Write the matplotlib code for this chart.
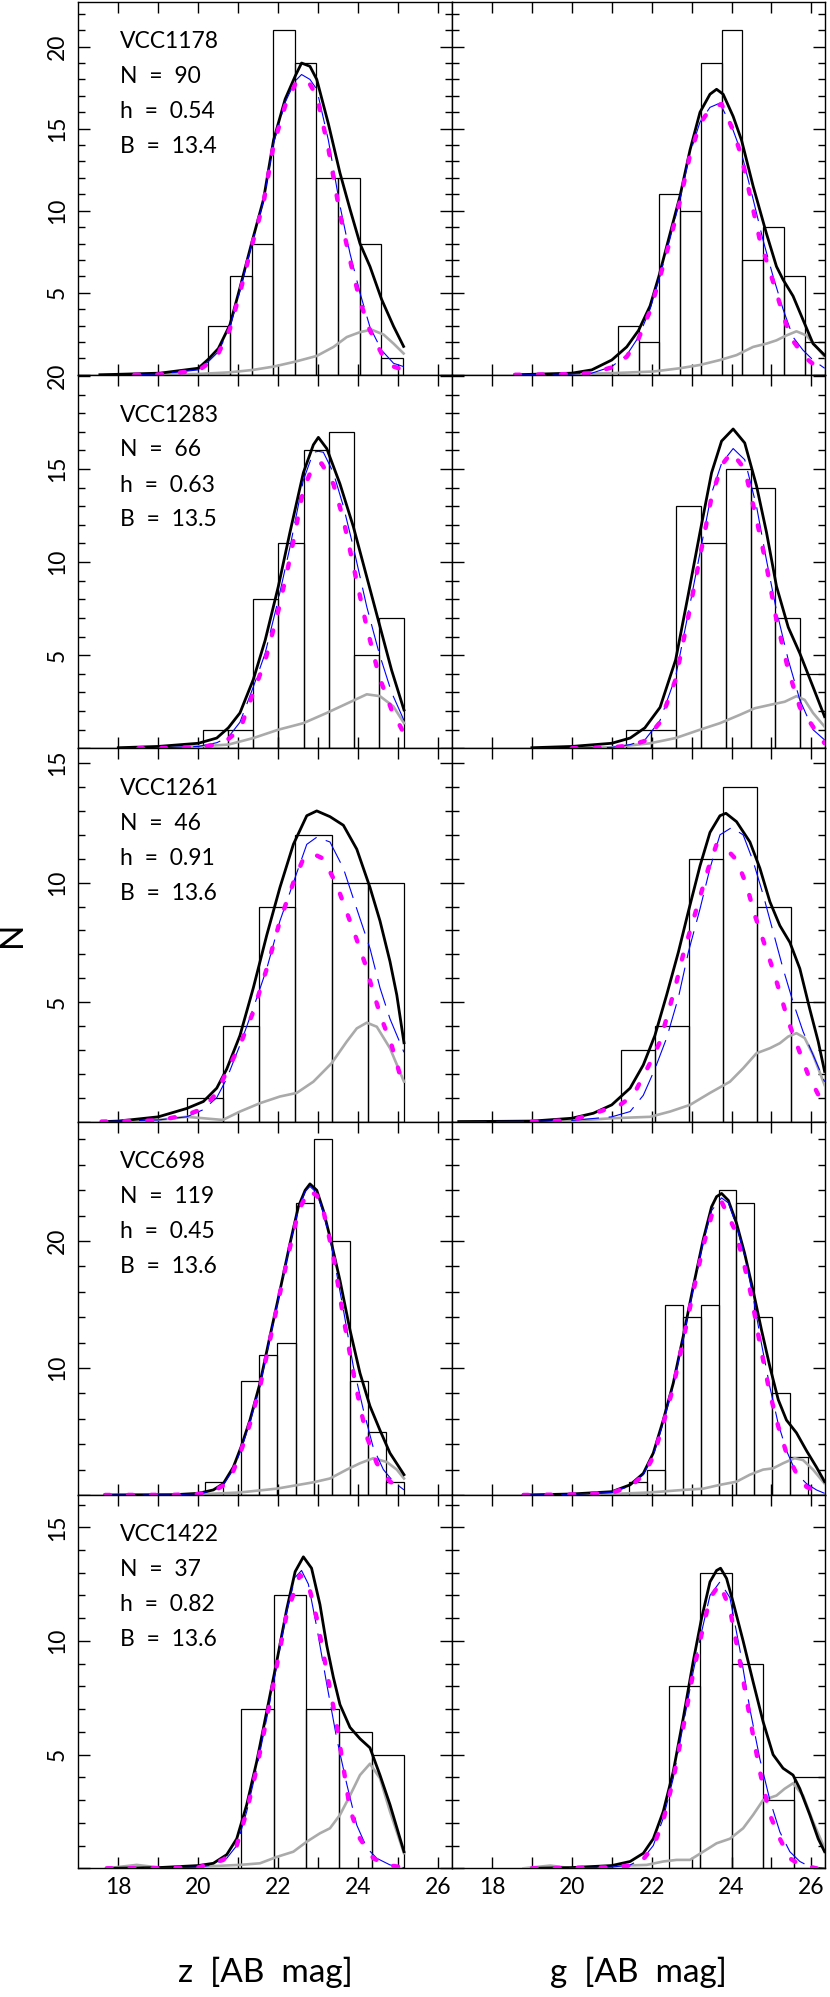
import numpy as np
import matplotlib
matplotlib.use("Agg")
import matplotlib.pyplot as plt

plt.rcParams['lines.scale_dashes'] = False
plt.rcParams['font.family'] = ['Lato', 'DejaVu Sans']
plt.rcParams['font.weight'] = 'normal'

# ---------------- data ----------------
GALAXY = ['VCC1178', 'VCC1283', 'VCC1261', 'VCC698', 'VCC1422']
N_GC = [90, 66, 46, 119, 37]
H_BW = ['0.54', '0.63', '0.91', '0.45', '0.82']
B_MAG = ['13.4', '13.5', '13.6', '13.6', '13.6']

# histograms: first bin edge, bin width, counts
Z_BIN_START = [20.25, 20.11, 19.71, 20.17, 21.07]
Z_BIN_WIDTH = [0.54, 0.63, 0.905, 0.452, 0.815]
G_BIN_START = [21.15, 21.35, 21.23, 21.44, 22.44]
G_BIN_WIDTH = [0.52, 0.625, 0.85, 0.447, 0.78]

Z1_COUNTS = [3, 6, 8, 21, 19, 12, 12, 8, 1]
G1_COUNTS = [3, 2, 11, 10, 19, 21, 7, 9, 6, 2]
Z2_COUNTS = [1, 1, 8, 11, 16, 17, 5, 7]
G2_COUNTS = [1, 1, 13, 11, 15, 14, 7, 4]
Z3_COUNTS = [1, 4, 9, 12, 10, 10]
G3_COUNTS = [3, 4, 11, 14, 9, 5]
Z4_COUNTS = [1, 0, 9, 11, 12, 23, 28, 20, 9, 5, 1]
G4_COUNTS = [1, 2, 15, 14, 15, 24, 23, 14, 8, 3, 0]
Z5_COUNTS = [7, 12, 7, 6, 5]
G5_COUNTS = [8, 13, 9, 3, 4]

# ----- row 1 : VCC1178 -----
Z1_TOT_X = [17.54, 19.04, 20.0, 20.25, 20.5, 20.79, 21.04, 21.33, 21.63, 21.88, 22.17, 22.42, 22.58, 22.79, 22.96, 23.25, 23.54, 23.79, 24.04, 24.29, 24.58, 24.88, 25.13]
Z1_TOT_Y = [0.0, 0.1, 0.4, 0.95, 1.6, 3.05, 5.3, 8.0, 10.7, 14.3, 16.8, 18.2, 19.0, 18.8, 18.0, 15.3, 12.3, 10.1, 8.0, 6.6, 4.6, 2.95, 1.73]
Z1_GAU_X = [18.4, 19.04, 20.0, 20.25, 20.5, 20.79, 21.04, 21.33, 21.63, 21.88, 22.17, 22.42, 22.58, 22.79, 22.96, 23.25, 23.54, 23.79, 24.04, 24.29, 24.58, 24.88, 25.13]
Z1_GAU_Y = [0.0, 0.05, 0.3, 0.8, 1.4, 2.9, 5.1, 7.9, 10.6, 14.1, 16.6, 17.9, 18.3, 18.0, 17.4, 14.3, 10.3, 7.4, 5.0, 2.9, 1.5, 0.7, 0.5]
Z1_MAG_X = Z1_GAU_X
Z1_MAG_Y = [0.0, 0.02, 0.25, 0.7, 1.3, 2.8, 5.0, 7.8, 10.5, 14.0, 16.4, 17.7, 18.0, 17.7, 17.0, 13.8, 9.8, 7.0, 4.5, 2.7, 1.3, 0.5, 0.3]
Z1_BKG_X = [17.54, 19.0, 20.0, 20.79, 21.37, 21.88, 22.42, 22.96, 23.38, 23.71, 24.04, 24.33, 24.63, 24.88, 25.13]
Z1_BKG_Y = [0.0, 0.02, 0.05, 0.15, 0.3, 0.5, 0.8, 1.15, 1.7, 2.3, 2.6, 2.75, 2.45, 1.9, 1.3]

G1_TOT_X = [18.58, 20.0, 20.5, 21.0, 21.375, 21.67, 21.96, 22.18, 22.46, 22.71, 22.96, 23.21, 23.46, 23.625, 23.79, 24.04, 24.25, 24.54, 24.875, 25.125, 25.29, 25.54, 25.79, 26.04, 26.33]
G1_TOT_Y = [0.0, 0.1, 0.3, 0.9, 1.7, 2.7, 4.2, 6.0, 8.6, 10.9, 13.7, 16.0, 17.1, 17.4, 17.1, 15.75, 14.3, 11.5, 8.6, 6.6, 5.8, 4.8, 3.35, 1.9, 1.2]
G1_GAU_X = [18.58, 20.0, 20.5, 21.0, 21.375, 21.67, 21.96, 22.18, 22.46, 22.71, 22.96, 23.21, 23.46, 23.71, 24.04, 24.25, 24.54, 24.79, 25.04, 25.29, 25.54, 25.79, 26.04, 26.33]
G1_GAU_Y = [0.0, 0.05, 0.1, 0.5, 1.2, 2.3, 4.0, 5.8, 8.3, 10.7, 13.5, 15.4, 16.3, 16.56, 14.9, 13.5, 10.7, 8.2, 6.0, 4.0, 2.3, 1.5, 0.9, 0.4]
G1_MAG_X = [18.58, 20.0, 20.5, 21.0, 21.375, 21.67, 21.96, 22.18, 22.46, 22.71, 22.96, 23.21, 23.46, 23.75, 24.04, 24.25, 24.71, 24.92, 25.125, 25.33, 25.5, 25.71, 25.92, 26.125, 26.33]
G1_MAG_Y = [0.0, 0.04, 0.1, 0.45, 1.1, 2.2, 3.9, 5.7, 8.2, 10.6, 13.4, 15.3, 16.2, 16.5, 14.9, 13.3, 8.2, 6.6, 5.0, 3.35, 2.2, 1.5, 0.9, 0.5, 0.3]
G1_BKG_X = [18.58, 21.0, 22.04, 22.71, 23.21, 23.71, 24.125, 24.54, 24.875, 25.125, 25.375, 25.625, 25.875, 26.125, 26.33]
G1_BKG_Y = [0.0, 0.1, 0.2, 0.4, 0.6, 0.9, 1.2, 1.7, 1.9, 2.1, 2.4, 2.65, 2.4, 1.7, 1.1]

# ----- row 2 : VCC1283 -----
Z2_TOT_X = [18.0, 19.0, 20.0, 20.46, 20.75, 21.04, 21.375, 21.67, 22.0, 22.29, 22.625, 22.875, 23.0, 23.21, 23.54, 23.875, 24.21, 24.52, 24.83, 25.14]
Z2_TOT_Y = [0.03, 0.1, 0.27, 0.55, 1.1, 1.9, 3.7, 5.8, 8.7, 11.6, 14.8, 16.3, 16.7, 16.1, 14.2, 11.9, 9.2, 6.7, 4.2, 2.06]
Z2_GAU_X = [18.0, 19.0, 20.0, 20.46, 20.75, 21.04, 21.375, 21.67, 22.0, 22.29, 22.625, 22.875, 23.0, 23.125, 23.375, 23.625, 23.875, 24.21, 24.52, 24.83, 25.14]
Z2_GAU_Y = [0.0, 0.02, 0.1, 0.3, 0.6, 1.4, 3.3, 5.1, 8.0, 10.8, 14.4, 15.9, 15.95, 15.9, 14.8, 13.0, 10.8, 7.6, 5.1, 3.0, 1.5]
Z2_MAG_X = [18.5, 19.0, 20.0, 20.46, 20.75, 21.04, 21.375, 21.67, 22.0, 22.29, 22.625, 22.875, 23.08, 23.375, 23.625, 23.875, 24.21, 24.52, 24.83, 25.14]
Z2_MAG_Y = [0.0, 0.01, 0.05, 0.2, 0.5, 1.0, 3.0, 4.7, 7.4, 10.2, 13.9, 15.2, 15.3, 14.2, 12.3, 9.8, 6.5, 3.85, 2.06, 0.8]
Z2_BKG_X = [18.0, 20.0, 20.75, 21.375, 22.0, 22.625, 23.21, 23.71, 24.21, 24.54, 24.875, 25.14]
Z2_BKG_Y = [0.0, 0.1, 0.2, 0.55, 1.0, 1.35, 1.9, 2.4, 2.9, 2.8, 2.25, 1.35]

G2_TOT_X = [19.0, 20.0, 21.0, 21.46, 21.83, 22.21, 22.6, 22.92, 23.21, 23.5, 23.75, 24.04, 24.33, 24.625, 24.875, 25.125, 25.42, 25.71, 26.04, 26.33]
G2_TOT_Y = [0.03, 0.1, 0.27, 0.55, 1.1, 2.2, 4.75, 8.3, 11.6, 14.8, 16.5, 17.15, 16.4, 14.1, 11.6, 8.7, 6.5, 5.1, 3.3, 1.7]
G2_GAU_X = G2_TOT_X
G2_GAU_Y = [0.0, 0.01, 0.05, 0.2, 0.45, 1.5, 3.85, 7.3, 10.5, 13.7, 15.3, 16.1, 15.5, 13.0, 10.1, 7.4, 4.75, 2.6, 1.0, 0.45]
G2_MAG_X = [20.0, 21.0, 21.46, 21.83, 22.21, 22.6, 22.92, 23.21, 23.5, 23.75, 24.0, 24.33, 24.625, 24.875, 25.125, 25.42, 25.71, 26.04, 26.33]
G2_MAG_Y = [0.0, 0.05, 0.15, 0.4, 1.4, 3.7, 7.1, 10.3, 13.5, 15.2, 15.9, 15.0, 12.3, 9.8, 6.9, 4.2, 2.2, 1.16, 0.27]
G2_BKG_X = [19.0, 21.0, 21.96, 22.6, 23.21, 23.71, 24.21, 24.58, 25.0, 25.33, 25.625, 25.83, 26.04, 26.33]
G2_BKG_Y = [0.0, 0.05, 0.27, 0.55, 1.0, 1.35, 1.8, 2.15, 2.35, 2.5, 2.8, 2.6, 1.9, 1.16]

# ----- row 3 : VCC1261 -----
Z3_TOT_X = [17.58, 18.0, 19.0, 19.71, 20.125, 20.46, 20.71, 21.04, 21.375, 21.71, 22.04, 22.375, 22.71, 22.96, 23.29, 23.625, 23.96, 24.29, 24.54, 24.79, 24.96, 25.14]
Z3_TOT_Y = [0.0, 0.02, 0.2, 0.55, 0.84, 1.4, 2.2, 3.6, 5.6, 7.8, 9.8, 11.6, 12.8, 13.0, 12.76, 12.4, 11.4, 9.8, 8.4, 6.7, 5.3, 3.3]
Z3_GAU_X = [17.58, 19.0, 19.71, 20.125, 20.46, 20.71, 21.04, 21.375, 21.71, 22.04, 22.375, 22.71, 22.96, 23.29, 23.625, 23.96, 24.29, 24.54, 24.79, 25.14]
Z3_GAU_Y = [0.0, 0.07, 0.2, 0.5, 1.0, 1.8, 3.2, 4.75, 6.4, 8.4, 10.0, 11.6, 11.9, 11.7, 10.6, 8.9, 7.25, 5.6, 4.3, 2.9]
Z3_MAG_X = [17.58, 19.0, 19.71, 20.125, 20.46, 20.71, 21.04, 21.375, 21.71, 22.04, 22.375, 22.625, 22.875, 23.125, 23.46, 23.92, 24.17, 24.375, 24.58, 24.83, 25.04, 25.14]
Z3_MAG_Y = [0.0, 0.05, 0.28, 0.55, 1.2, 2.1, 3.2, 4.6, 6.4, 8.4, 10.0, 11.0, 11.2, 11.0, 9.9, 7.8, 6.6, 5.4, 4.3, 3.2, 1.95, 1.67]
Z3_BKG_X = [17.58, 19.0, 19.71, 20.125, 20.61, 21.04, 21.54, 22.04, 22.46, 22.875, 23.33, 23.71, 23.96, 24.21, 24.46, 24.79, 25.14]
Z3_BKG_Y = [0.0, 0.07, 0.2, 0.14, 0.07, 0.42, 0.77, 1.05, 1.2, 1.67, 2.44, 3.35, 3.9, 4.14, 3.97, 3.07, 1.67]

G3_TOT_X = [17.17, 19.0, 20.0, 20.54, 21.0, 21.46, 21.79, 22.08, 22.375, 22.67, 22.92, 23.21, 23.46, 23.71, 23.86, 24.125, 24.46, 24.71, 24.96, 25.21, 25.46, 25.71, 25.96, 26.17, 26.33]
G3_TOT_Y = [0.0, 0.02, 0.14, 0.35, 0.7, 1.4, 2.37, 3.6, 5.3, 7.1, 8.8, 10.7, 12.1, 12.8, 12.9, 12.55, 11.7, 10.6, 9.2, 8.2, 7.5, 6.4, 4.7, 3.35, 2.1]
G3_GAU_X = [17.17, 19.0, 20.0, 21.0, 21.46, 21.79, 22.08, 22.375, 22.67, 22.92, 23.21, 23.46, 23.71, 24.0, 24.29, 24.54, 24.79, 25.04, 25.29, 25.54, 25.79, 26.04, 26.33]
G3_GAU_Y = [0.0, 0.01, 0.05, 0.2, 0.42, 1.1, 2.2, 3.5, 5.2, 7.1, 8.9, 10.6, 12.0, 12.3, 12.0, 10.9, 9.5, 7.95, 6.4, 5.0, 3.77, 2.8, 1.67]
G3_MAG_X = [19.0, 20.0, 21.21, 21.54, 21.96, 22.21, 22.42, 22.625, 22.79, 23.0, 23.21, 23.42, 23.625, 23.875, 24.125, 24.375, 24.58, 24.79, 25.0, 25.21, 25.42, 25.67, 25.92, 26.21, 26.33]
G3_MAG_Y = [0.0, 0.05, 0.7, 1.1, 2.45, 3.35, 4.6, 5.86, 7.0, 8.2, 9.4, 10.6, 11.6, 11.4, 10.95, 9.9, 8.65, 7.6, 6.55, 5.4, 4.2, 3.07, 1.95, 1.0, 0.84]
G3_BKG_X = [17.17, 20.0, 21.0, 21.96, 22.46, 22.96, 23.46, 23.96, 24.29, 24.625, 24.96, 25.21, 25.42, 25.625, 25.83, 26.04, 26.33]
G3_BKG_Y = [0.0, 0.03, 0.14, 0.2, 0.42, 0.7, 1.2, 1.67, 2.23, 2.86, 3.07, 3.28, 3.56, 3.7, 3.5, 2.8, 1.53]

# ----- row 4 : VCC698 -----
Z4_TOT_X = [17.67, 19.375, 20.0, 20.375, 20.625, 20.875, 21.07, 21.29, 21.54, 21.79, 22.04, 22.29, 22.5, 22.67, 22.79, 22.96, 23.125, 23.33, 23.54, 23.79, 24.04, 24.29, 24.54, 24.79, 25.14]
Z4_TOT_Y = [0.0, 0.02, 0.13, 0.4, 0.9, 2.2, 3.8, 5.9, 8.8, 12.5, 16.1, 19.8, 22.7, 24.0, 24.5, 24.0, 22.4, 19.8, 16.9, 13.0, 9.6, 7.0, 5.1, 3.3, 1.6]
Z4_GAU_X = [17.67, 19.375, 20.0, 20.375, 20.625, 20.875, 21.07, 21.29, 21.54, 21.79, 22.04, 22.29, 22.5, 22.67, 22.79, 22.96, 23.125, 23.33, 23.625, 23.875, 24.125, 24.375, 24.625, 24.875, 25.14]
Z4_GAU_Y = [0.0, 0.01, 0.1, 0.35, 0.8, 2.0, 3.6, 5.7, 8.6, 12.3, 16.0, 19.7, 22.5, 23.9, 24.3, 23.8, 22.2, 19.6, 14.6, 10.1, 6.7, 3.7, 2.0, 1.05, 0.4]
Z4_MAG_X = [17.67, 19.375, 20.0, 20.375, 20.625, 20.875, 21.07, 21.29, 21.54, 21.79, 22.04, 22.29, 22.5, 22.75, 22.96, 23.125, 23.375, 23.625, 23.875, 24.04, 24.21, 24.46, 24.79, 25.04]
Z4_MAG_Y = [0.0, 0.01, 0.08, 0.3, 0.75, 1.9, 3.5, 5.6, 8.5, 12.2, 15.9, 19.5, 22.3, 24.0, 23.6, 22.4, 18.8, 14.0, 9.6, 7.0, 4.6, 2.5, 1.05, 0.65]
Z4_BKG_X = [17.67, 20.0, 21.04, 21.96, 22.875, 23.29, 23.71, 24.04, 24.375, 24.71, 24.96, 25.14]
Z4_BKG_Y = [0.0, 0.05, 0.2, 0.5, 1.0, 1.3, 2.0, 2.5, 2.9, 2.6, 2.0, 1.3]

G4_TOT_X = [18.79, 19.0, 20.0, 21.0, 21.46, 21.79, 22.04, 22.29, 22.54, 22.79, 23.04, 23.29, 23.5, 23.625, 23.75, 23.92, 24.125, 24.33, 24.54, 24.75, 24.96, 25.17, 25.375, 25.625, 25.875, 26.125, 26.33]
G4_TOT_Y = [0.0, 0.01, 0.08, 0.26, 0.8, 1.7, 3.3, 5.9, 8.8, 12.5, 16.4, 20.1, 22.7, 23.5, 23.75, 23.2, 21.4, 19.0, 16.1, 13.0, 10.1, 7.5, 5.9, 4.9, 3.5, 2.2, 1.05]
G4_GAU_X = [18.79, 20.0, 21.0, 21.46, 21.79, 22.04, 22.29, 22.54, 22.79, 23.04, 23.29, 23.5, 23.75, 23.92, 24.125, 24.33, 24.54, 24.75, 24.96, 25.17, 25.375, 25.625, 25.875, 26.125, 26.33]
G4_GAU_Y = [0.0, 0.05, 0.2, 0.7, 1.6, 3.1, 5.7, 8.6, 12.3, 16.2, 19.9, 22.4, 23.4, 23.0, 21.2, 18.8, 15.6, 11.9, 8.5, 5.6, 3.5, 1.7, 0.9, 0.4, 0.13]
G4_MAG_X = [18.79, 20.0, 21.0, 21.46, 21.79, 22.04, 22.29, 22.54, 22.79, 23.04, 23.29, 23.5, 23.75, 24.08, 24.29, 24.5, 24.71, 24.96, 25.17, 25.375, 25.625, 25.875, 26.21, 26.33]
G4_MAG_Y = [0.0, 0.04, 0.18, 0.65, 1.55, 3.0, 5.6, 8.5, 12.2, 16.0, 19.6, 22.0, 23.1, 20.9, 18.5, 15.6, 11.9, 8.0, 5.4, 3.3, 1.7, 0.65, 0.13, 0.05]
G4_BKG_X = [18.79, 21.0, 21.96, 22.79, 23.29, 23.71, 24.125, 24.46, 24.79, 25.04, 25.29, 25.58, 25.79, 26.04, 26.33]
G4_BKG_Y = [0.0, 0.08, 0.2, 0.4, 0.5, 0.8, 1.05, 1.6, 2.0, 2.1, 2.5, 2.9, 2.75, 2.0, 0.9]

# ----- row 5 : VCC1422 -----
Z5_TOT_X = [17.71, 19.0, 20.0, 20.375, 20.71, 20.96, 21.21, 21.46, 21.71, 21.96, 22.21, 22.42, 22.625, 22.83, 23.04, 23.21, 23.375, 23.54, 23.79, 24.04, 24.29, 24.54, 24.79, 25.14]
Z5_TOT_Y = [0.0, 0.03, 0.12, 0.22, 0.6, 1.3, 2.8, 4.7, 6.9, 9.1, 11.4, 13.05, 13.7, 13.2, 11.6, 9.8, 8.4, 7.2, 6.2, 5.7, 5.3, 4.1, 2.8, 0.73]
Z5_GAU_X = [17.71, 19.0, 20.0, 20.375, 20.71, 20.96, 21.21, 21.46, 21.71, 21.96, 22.21, 22.42, 22.58, 22.75, 22.96, 23.21, 23.46, 23.71, 23.96, 24.21, 24.46, 24.79, 25.14]
Z5_GAU_Y = [0.0, 0.01, 0.05, 0.15, 0.44, 1.0, 2.5, 4.4, 6.6, 8.9, 11.3, 12.8, 13.1, 12.5, 10.6, 8.1, 5.7, 3.7, 1.9, 0.9, 0.44, 0.15, 0.03]
Z5_MAG_X = [17.71, 19.0, 20.0, 20.625, 20.96, 21.21, 21.46, 21.71, 21.96, 22.21, 22.54, 22.75, 22.96, 23.21, 23.46, 23.79, 24.04, 24.375, 24.71, 25.14]
Z5_MAG_Y = [0.0, 0.01, 0.04, 0.37, 1.0, 2.5, 4.4, 6.6, 8.9, 11.2, 12.9, 12.5, 11.0, 8.65, 6.3, 2.6, 1.3, 0.44, 0.15, 0.03]
Z5_BKG_X = [17.71, 18.46, 19.04, 20.0, 21.04, 21.54, 21.96, 22.375, 22.71, 23.04, 23.29, 23.54, 23.79, 24.04, 24.29, 24.54, 24.79, 25.14]
Z5_BKG_Y = [0.0, 0.15, 0.03, 0.07, 0.15, 0.22, 0.5, 0.73, 1.17, 1.54, 1.76, 2.35, 3.2, 4.1, 4.6, 3.96, 2.5, 0.66]

G5_TOT_X = [19.0, 19.96, 21.0, 21.46, 21.79, 22.04, 22.29, 22.54, 22.79, 23.04, 23.25, 23.46, 23.625, 23.725, 23.875, 24.04, 24.29, 24.54, 24.79, 25.04, 25.29, 25.54, 25.71, 25.96, 26.17, 26.33]
G5_TOT_Y = [0.0, 0.03, 0.12, 0.3, 0.66, 1.3, 2.5, 4.25, 6.6, 9.1, 11.0, 12.6, 13.1, 13.2, 12.75, 11.7, 10.0, 8.2, 6.45, 5.0, 4.4, 4.1, 3.5, 2.35, 1.3, 0.73]
G5_GAU_X = [19.0, 21.0, 21.46, 21.79, 22.04, 22.29, 22.54, 22.79, 23.04, 23.25, 23.46, 23.71, 23.96, 24.21, 24.46, 24.71, 24.96, 25.21, 25.46, 25.71, 25.96, 26.33]
G5_GAU_Y = [0.0, 0.05, 0.15, 0.44, 1.0, 2.2, 3.96, 6.3, 8.65, 10.4, 12.0, 12.6, 11.9, 9.6, 7.0, 4.8, 3.0, 1.6, 0.73, 0.3, 0.07, 0.0]
G5_MAG_X = [19.0, 21.0, 21.46, 21.79, 22.04, 22.29, 22.54, 22.79, 23.04, 23.25, 23.46, 23.71, 23.96, 24.21, 24.46, 24.71, 24.96, 25.21, 25.46, 25.71, 26.125, 26.33]
G5_MAG_Y = [0.0, 0.04, 0.12, 0.4, 0.95, 2.1, 3.9, 6.2, 8.6, 10.3, 11.9, 12.5, 11.4, 9.1, 6.6, 4.25, 2.35, 1.3, 0.44, 0.15, 0.0, 0.0]
G5_BKG_X = [18.79, 19.46, 20.0, 21.0, 21.875, 22.29, 22.625, 22.96, 23.29, 23.625, 23.96, 24.29, 24.54, 24.79, 25.125, 25.33, 25.54, 25.79, 26.04, 26.33]
G5_BKG_Y = [0.0, 0.12, 0.0, 0.1, 0.15, 0.3, 0.37, 0.37, 0.73, 1.1, 1.3, 1.76, 2.35, 3.0, 3.2, 3.5, 3.74, 3.2, 2.05, 0.88]

XLABELS = ['z  [AB  mag]', 'g  [AB  mag]']
YLABEL = 'N'

# table built from the arrays above
PANELS = [
    [(Z1_COUNTS, Z1_TOT_X, Z1_TOT_Y, Z1_GAU_X, Z1_GAU_Y, Z1_MAG_X, Z1_MAG_Y, Z1_BKG_X, Z1_BKG_Y),
     (G1_COUNTS, G1_TOT_X, G1_TOT_Y, G1_GAU_X, G1_GAU_Y, G1_MAG_X, G1_MAG_Y, G1_BKG_X, G1_BKG_Y)],
    [(Z2_COUNTS, Z2_TOT_X, Z2_TOT_Y, Z2_GAU_X, Z2_GAU_Y, Z2_MAG_X, Z2_MAG_Y, Z2_BKG_X, Z2_BKG_Y),
     (G2_COUNTS, G2_TOT_X, G2_TOT_Y, G2_GAU_X, G2_GAU_Y, G2_MAG_X, G2_MAG_Y, G2_BKG_X, G2_BKG_Y)],
    [(Z3_COUNTS, Z3_TOT_X, Z3_TOT_Y, Z3_GAU_X, Z3_GAU_Y, Z3_MAG_X, Z3_MAG_Y, Z3_BKG_X, Z3_BKG_Y),
     (G3_COUNTS, G3_TOT_X, G3_TOT_Y, G3_GAU_X, G3_GAU_Y, G3_MAG_X, G3_MAG_Y, G3_BKG_X, G3_BKG_Y)],
    [(Z4_COUNTS, Z4_TOT_X, Z4_TOT_Y, Z4_GAU_X, Z4_GAU_Y, Z4_MAG_X, Z4_MAG_Y, Z4_BKG_X, Z4_BKG_Y),
     (G4_COUNTS, G4_TOT_X, G4_TOT_Y, G4_GAU_X, G4_GAU_Y, G4_MAG_X, G4_MAG_Y, G4_BKG_X, G4_BKG_Y)],
    [(Z5_COUNTS, Z5_TOT_X, Z5_TOT_Y, Z5_GAU_X, Z5_GAU_Y, Z5_MAG_X, Z5_MAG_Y, Z5_BKG_X, Z5_BKG_Y),
     (G5_COUNTS, G5_TOT_X, G5_TOT_Y, G5_GAU_X, G5_GAU_Y, G5_MAG_X, G5_MAG_Y, G5_BKG_X, G5_BKG_Y)],
]

# ---------------- layout / style ----------------
W, H = 830, 1997
DPI = 100
COL_LEFT = [78.3, 452.0]
COL_WIDTH = [373.7, 373.0]
ROW_TOP = [1.5, 375.0, 748.3, 1121.7, 1495.0]
ROW_H = 373.3
YLIM_TOP = [22.75, 20.05, 15.62, 29.4, 16.42]
Y_MAJOR = [5, 5, 5, 10, 5]
Y_MINOR = [1, 1, 1, 2, 1]
XLIM = (17.0, 26.34)

FS_TICK = 16.5
FS_ANN = 16.5
FS_LAB = 24

fig = plt.figure(figsize=(W / DPI, H / DPI), dpi=DPI)
fig.patch.set_facecolor('white')

px2pt = 72.0 / DPI

for r in range(5):
    for c in range(2):
        left = COL_LEFT[c] / W
        bottom = 1 - (ROW_TOP[r] + ROW_H) / H
        ax = fig.add_axes([left, bottom, COL_WIDTH[c] / W, ROW_H / H])
        counts, tx, ty, gx, gy, mx, my, bx, by = PANELS[r][c]
        start = Z_BIN_START[r] if c == 0 else G_BIN_START[r]
        width = Z_BIN_WIDTH[r] if c == 0 else G_BIN_WIDTH[r]
        lefts = start + width * np.arange(len(counts))
        ax.bar(lefts, counts, width=width, align='edge', fill=False,
               edgecolor='black', linewidth=0.9, zorder=2)
        ax.plot(bx, by, color='#aaaaaa', lw=1.9, zorder=3,
                solid_joinstyle='round')
        ax.plot(tx, ty, color='black', lw=2.0, zorder=4, solid_joinstyle='round')
        ax.plot(gx, gy, color='#0000ff', lw=0.8, zorder=5, dashes=(20, 7))
        ax.plot(mx, my, color='#ff00ff', lw=3.2, zorder=6, dashes=(3.5, 13),
                dash_capstyle='round')

        ax.set_xlim(*XLIM)
        ax.set_ylim(0, YLIM_TOP[r])

        # x ticks every 1 mag, labels every 2 mag
        xt = np.arange(18, 27, 1)
        ax.set_xticks(xt)
        if r == 4:
            ax.set_xticklabels([str(v) if v % 2 == 0 else '' for v in xt])
        else:
            ax.set_xticklabels([])
        yt = np.arange(0, YLIM_TOP[r] + 1e-6, Y_MAJOR[r])
        ax.set_yticks(yt)
        ax.set_yticks(np.arange(0, YLIM_TOP[r] + 1e-6, Y_MINOR[r]), minor=True)
        if c == 0:
            ax.set_yticklabels(['' if v == 0 else '%d' % v for v in yt],
                               rotation=90, va='center', ha='right')
        else:
            ax.set_yticklabels([])

        ax.tick_params(axis='both', which='both', direction='in', top=True,
                       right=True, width=1.0, color='black',
                       labelsize=FS_TICK)
        ax.tick_params(axis='y', which='major', length=11.7 * px2pt, pad=7.5)
        ax.tick_params(axis='y', which='minor', length=6.7 * px2pt)
        ax.tick_params(axis='x', which='major', length=11 * px2pt, pad=6.5)
        for sp in ax.spines.values():
            sp.set_linewidth(1.0)
            sp.set_color('black')

        if c == 0:
            lines = [GALAXY[r], 'N  =  %d' % N_GC[r], 'h  =  ' + H_BW[r],
                     'B  =  ' + B_MAG[r]]
            for k, s in enumerate(lines):
                ax.text((120 - COL_LEFT[0]) / COL_WIDTH[0],
                        1 - (40 + 35 * k) / ROW_H, s, transform=ax.transAxes,
                        ha='left', va='center', fontsize=FS_ANN, color='black',
                        zorder=10)

for c in range(2):
    fig.text((COL_LEFT[c] + COL_WIDTH[c] / 2) / W, 1 - 1982 / H, XLABELS[c],
             ha='center', va='baseline', fontsize=FS_LAB)
fig.text(21 / W, 1 - 934 / H, YLABEL, ha='center', va='baseline', rotation=90,
         rotation_mode='anchor', fontsize=FS_LAB)

fig.savefig('out.png', dpi=DPI, facecolor='white')
